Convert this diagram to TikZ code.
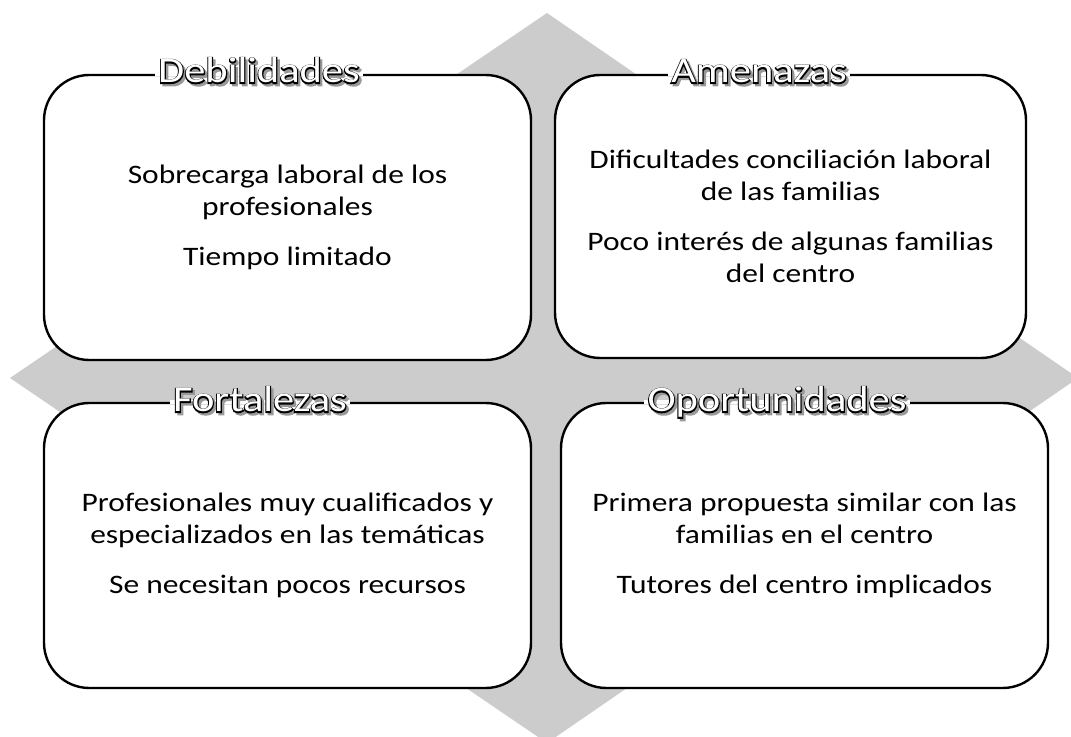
\documentclass[tikz,border=0pt]{standalone}
\usepackage{fontspec}
\setmainfont{Carlito}[FakeStretch=1.18]
\newfontfamily\hdfont{Carlito}[FakeStretch=1.18]
\newfontfamily\hdbold{Carlito}[FakeStretch=1.18, FakeBold=6]
\usetikzlibrary{calc}
\definecolor{diamondgray}{RGB}{204,204,204}
\pgfdeclarelayer{back}
\pgfdeclarelayer{mid}
\pgfsetlayers{back,mid,main}
\newcommand{\swothead}[1]{\makebox[0pt][l]{\hspace*{1.8pt}\raisebox{-1.8pt}{\hdbold\textcolor{black!40}{#1}}}\makebox[0pt][l]{\hdbold #1}\textcolor{white}{\hdfont #1}}
\tikzset{
  swotbox/.style={draw, line width=1.8pt, rounded corners=34pt, fill=white, align=center,
    minimum width=365.25pt, minimum height=213.75pt, font=\fontsize{20}{24}\selectfont},
  swothd/.style={inner xsep=2.2pt, inner ysep=0pt, anchor=base, font=\fontsize{27}{31}\selectfont},
  gap/.style={fill=white}
}
\begin{document}
\begin{tikzpicture}[x=0.75pt, y=-0.75pt]
            \useasboundingbox (0,0) rectangle (1071,737);
            \clip (0,0) rectangle (1071,737);

            \begin{pgfonlayer}{back}
            \fill[diamondgray] (547,13) -- (1078,378) -- (547,743) -- (10,378) -- cycle;

            \node[swotbox] (deb) at (287.5,217.5) {Sobrecarga laboral de los\\ profesionales\\[13.5pt] Tiempo limitado};
            \node[swotbox, minimum width=353.25pt, minimum height=212.25pt] (ame) at (790.5,216.5) {Dificultades conciliación laboral\\ de las familias\\[13.5pt] Poco interés de algunas familias\\ del centro};
            \node[swotbox] (fort) at (287.5,545.5) {Profesionales muy cualificados y\\ especializados en las temáticas\\[13.5pt] Se necesitan pocos recursos};
            \node[swotbox] (opo) at (804.5,545.5) {Primera propuesta similar con las\\ familias en el centro\\[13.5pt] Tutores del centro implicados};
            \end{pgfonlayer}

            \node[swothd] (debT) at (259,83) {\swothead{Debilidades}};
            \node[swothd] (ameT) at (759,83) {\swothead{Amenazas}};
            \node[swothd] (fortT) at (260,412) {\swothead{Fortalezas}};
            \node[swothd] (opoT) at (777,412) {\swothead{Oportunidades}};

            \begin{pgfonlayer}{mid}
            \fill[gap] ($(debT.west |- deb.north)+(0,-2)$) rectangle ($(debT.east |- deb.north)+(0,2)$);
            \fill[gap] ($(ameT.west |- ame.north)+(0,-2)$) rectangle ($(ameT.east |- ame.north)+(0,2)$);
            \fill[gap] ($(fortT.west |- fort.north)+(0,-2)$) rectangle ($(fortT.east |- fort.north)+(0,2)$);
            \fill[gap] ($(opoT.west |- opo.north)+(0,-2)$) rectangle ($(opoT.east |- opo.north)+(0,2)$);
            \end{pgfonlayer}
        \end{tikzpicture}
\end{document}
